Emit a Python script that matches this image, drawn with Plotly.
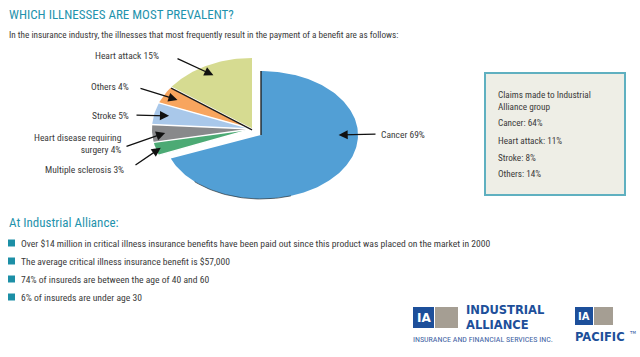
import numpy as np
import plotly.graph_objects as go

# ---------------- data ----------------
illnesses = ["Cancer", "Multiple sclerosis", "Heart disease requiring surgery",
             "Stroke", "Others", "Heart attack"]
shares = [69, 3, 4, 5, 4, 15]
slice_colors = ["#529fd5", "#4caa74", "#88898b", "#a9c8ea", "#f8a55e", "#d6db91"]
label_lines = ["Cancer 69%", "Multiple sclerosis 3%", "Heart disease requiring<br>surgery 4%",
               "Stroke 5%", "Others 4%", "Heart attack 15%"]

claims_labels = ["Cancer", "Heart attack", "Stroke", "Others"]
claims_shares = [64, 11, 8, 14]

bullets = [
    "Over $14 million in critical illness insurance benefits have been paid out since this product was placed on the market in 2000",
    "The average critical illness insurance benefit is $57,000",
    "74% of insureds are between the age of 40 and 60",
    "6% of insureds are under age 30",
]

title = "WHICH ILLNESSES ARE MOST PREVALENT?"
subtitle = "In the insurance industry, the illnesses that most frequently result in the payment of a benefit are as follows:"
section = "At Industrial Alliance:"
box_title = "Claims made to Industrial<br>Alliance group"

# ---------------- style ----------------
W, H = 640, 357
FN = "Liberation Sans Narrow, Arial Narrow, Roboto Condensed, DejaVu Sans Condensed, sans-serif"
TEAL = "#1f93ad"
TXT = "#3a3a3a"
BLUE = "#1d4f9a"
GREY = "#a59e93"

# ellipse geometry (pixels): exploded slice vs the rest
geo_explode = dict(cx=261, cy=135, rx=97, ry=64)
geo_rest = dict(cx=252, cy=129, rx=100, ry=71)

fig = go.Figure()

total = float(sum(shares))
fracs = np.array(shares) / total
starts = np.concatenate([[0], np.cumsum(fracs)[:-1]])
ends = np.cumsum(fracs)


def ang(f):
    return np.deg2rad(90 - 360 * f)


def pt(g, f, r=1.0):
    a = ang(f)
    return g["cx"] + r * g["rx"] * np.cos(a), g["cy"] - r * g["ry"] * np.sin(a)


for i, (s, e) in enumerate(zip(starts, ends)):
    g = geo_explode if i == 0 else geo_rest
    n = max(10, int((e - s) * 300))
    fs = np.linspace(s, e, n)
    xs = [g["cx"]] + [pt(g, f)[0] for f in fs] + [g["cx"]]
    ys = [g["cy"]] + [pt(g, f)[1] for f in fs] + [g["cy"]]
    fig.add_trace(go.Scatter(x=xs, y=ys, mode="lines", fill="toself",
                             fillcolor=slice_colors[i], line=dict(width=0),
                             hoverinfo="skip", showlegend=False))

# white separators between the small slices
for i in range(1, len(shares)):
    f = starts[i]
    x1, y1 = pt(geo_rest, f, 1.02)
    fig.add_trace(go.Scatter(x=[geo_rest["cx"], x1], y=[geo_rest["cy"], y1], mode="lines",
                             line=dict(color="white", width=1.4), hoverinfo="skip", showlegend=False))

# dark edges (shading)
x1, y1 = pt(geo_explode, 0.0)
fig.add_trace(go.Scatter(x=[geo_explode["cx"], x1], y=[geo_explode["cy"], y1], mode="lines",
                         line=dict(color="#1a1a1a", width=1.3), hoverinfo="skip", showlegend=False))
x1, y1 = pt(geo_rest, starts[-1])
fig.add_trace(go.Scatter(x=[geo_rest["cx"], x1], y=[geo_rest["cy"] + 0.8, y1 + 0.8], mode="lines",
                         line=dict(color="#1a1a1a", width=1.3), hoverinfo="skip", showlegend=False))
fb = np.linspace(0.45, 0.62, 40)
fig.add_trace(go.Scatter(x=[pt(geo_explode, f)[0] for f in fb], y=[pt(geo_explode, f)[1] for f in fb],
                         mode="lines", line=dict(color="rgba(30,30,30,0.6)", width=1),
                         hoverinfo="skip", showlegend=False))

annotations = []

# labels + arrows
label_tail = [(377, 134), (134, 166), (125, 147), (135, 115), (139, 88), (176, 58)]
label_pos = [(379, 134, "left"), (126, 169, "right"), (124, 143, "right"),
             (131, 115, "right"), (131, 86, "right"), (161, 55, "right")]
arrow_frac = [0.25, None, None, None, None, None]
arrow_r = [0.8, 0.95, 0.87, 0.85, 0.85, 0.85]
for i in range(len(shares)):
    g = geo_explode if i == 0 else geo_rest
    f = arrow_frac[i] if arrow_frac[i] is not None else (starts[i] + ends[i]) / 2
    hx, hy = pt(g, f, arrow_r[i])
    tx, ty = label_tail[i]
    annotations.append(dict(x=hx, y=hy, ax=tx, ay=ty, xref="x", yref="y", axref="x", ayref="y",
                            text="", showarrow=True, arrowhead=2, arrowsize=1.4, arrowwidth=1.3,
                            arrowcolor="#111", standoff=0, startstandoff=0))
    lx, ly, anc = label_pos[i]
    annotations.append(dict(x=lx, y=ly, xref="x", yref="y", text=label_lines[i], showarrow=False,
                            xanchor=anc, yanchor="middle", align=anc,
                            font=dict(family=FN, size=9.5, color=TXT)))

# title, subtitle, section header
annotations.append(dict(x=7, y=14, xref="x", yref="y", text=title, showarrow=False, xanchor="left",
                        yanchor="middle", font=dict(family=FN, size=13, color=TEAL)))
annotations.append(dict(x=7, y=34, xref="x", yref="y", text=subtitle, showarrow=False, xanchor="left",
                        yanchor="middle", font=dict(family=FN, size=9.2, color=TXT)))
annotations.append(dict(x=7, y=222, xref="x", yref="y", text=section, showarrow=False, xanchor="left",
                        yanchor="middle", font=dict(family=FN, size=13, color=TEAL)))

shapes = []
bullet_y = [243, 261, 279, 297]
for b, by in zip(bullets, bullet_y):
    shapes.append(dict(type="rect", xref="x", yref="y", x0=8, x1=15, y0=by - 3.5, y1=by + 3.5,
                       fillcolor="#1c8fa6", line=dict(width=0)))
    annotations.append(dict(x=19, y=by, xref="x", yref="y", text=b, showarrow=False, xanchor="left",
                            yanchor="middle", font=dict(family=FN, size=9.6, color=TXT)))

# claims box
shapes.append(dict(type="rect", xref="x", yref="y", x0=485, x1=625, y0=73, y1=195,
                   fillcolor="#eeeee6", line=dict(color="#5fb0c0", width=2)))
annotations.append(dict(x=496, y=100, xref="x", yref="y", text=box_title, showarrow=False,
                        xanchor="left", yanchor="middle", align="left",
                        font=dict(family=FN, size=9.2, color=TXT)))
box_y = [122, 140, 157, 173]
for lab, v, yy in zip(claims_labels, claims_shares, box_y):
    annotations.append(dict(x=496, y=yy, xref="x", yref="y", text=f"{lab}: {v}%", showarrow=False,
                            xanchor="left", yanchor="middle", font=dict(family=FN, size=9.2, color=TXT)))

# logos
shapes += [
    dict(type="rect", xref="x", yref="y", x0=413, x1=434, y0=307, y1=328, fillcolor=BLUE, line=dict(width=0)),
    dict(type="rect", xref="x", yref="y", x0=435, x1=458, y0=307, y1=328, fillcolor=GREY, line=dict(width=0)),
    dict(type="rect", xref="x", yref="y", x0=575, x1=593, y0=307, y1=325, fillcolor=BLUE, line=dict(width=0)),
    dict(type="rect", xref="x", yref="y", x0=594, x1=613, y0=307, y1=325, fillcolor=GREY, line=dict(width=0)),
]
LOGO_FONT = "DejaVu Sans, Liberation Sans, Arial, sans-serif"
logo_ann = [
    dict(x=423.5, y=318, text="<b>IA</b>", font=dict(family=LOGO_FONT, size=12, color="white")),
    dict(x=584, y=316.5, text="<b>IA</b>", font=dict(family=LOGO_FONT, size=10, color="white")),
    dict(x=464, y=317.5, text="<b>INDUSTRIAL<br>ALLIANCE</b>", xanchor="left", align="left",
         font=dict(family=LOGO_FONT, size=11.5, color=BLUE)),
    dict(x=411, y=339, text="INSURANCE AND FINANCIAL SERVICES INC.", xanchor="left",
         font=dict(family=FN, size=8, color="#3d62a3")),
    dict(x=573, y=337, text="<b>PACIFIC</b>", xanchor="left", font=dict(family=LOGO_FONT, size=11.5, color=BLUE)),
    dict(x=627, y=332, text="TM", xanchor="left", font=dict(family=LOGO_FONT, size=4, color=BLUE)),
]
for a in logo_ann:
    a.setdefault("xref", "x")
    a.setdefault("yref", "y")
    a.setdefault("showarrow", False)
    a.setdefault("yanchor", "middle")
annotations += logo_ann

fig.update_layout(
    width=W, height=H, margin=dict(l=0, r=0, t=0, b=0),
    paper_bgcolor="white", plot_bgcolor="white",
    xaxis=dict(range=[0, W], visible=False, fixedrange=True),
    yaxis=dict(range=[H, 0], visible=False, fixedrange=True),
    shapes=shapes, annotations=annotations, showlegend=False,
)

fig.write_html("out.html", config={"displayModeBar": False, "staticPlot": True},
               post_script="document.body.style.margin='0';")
